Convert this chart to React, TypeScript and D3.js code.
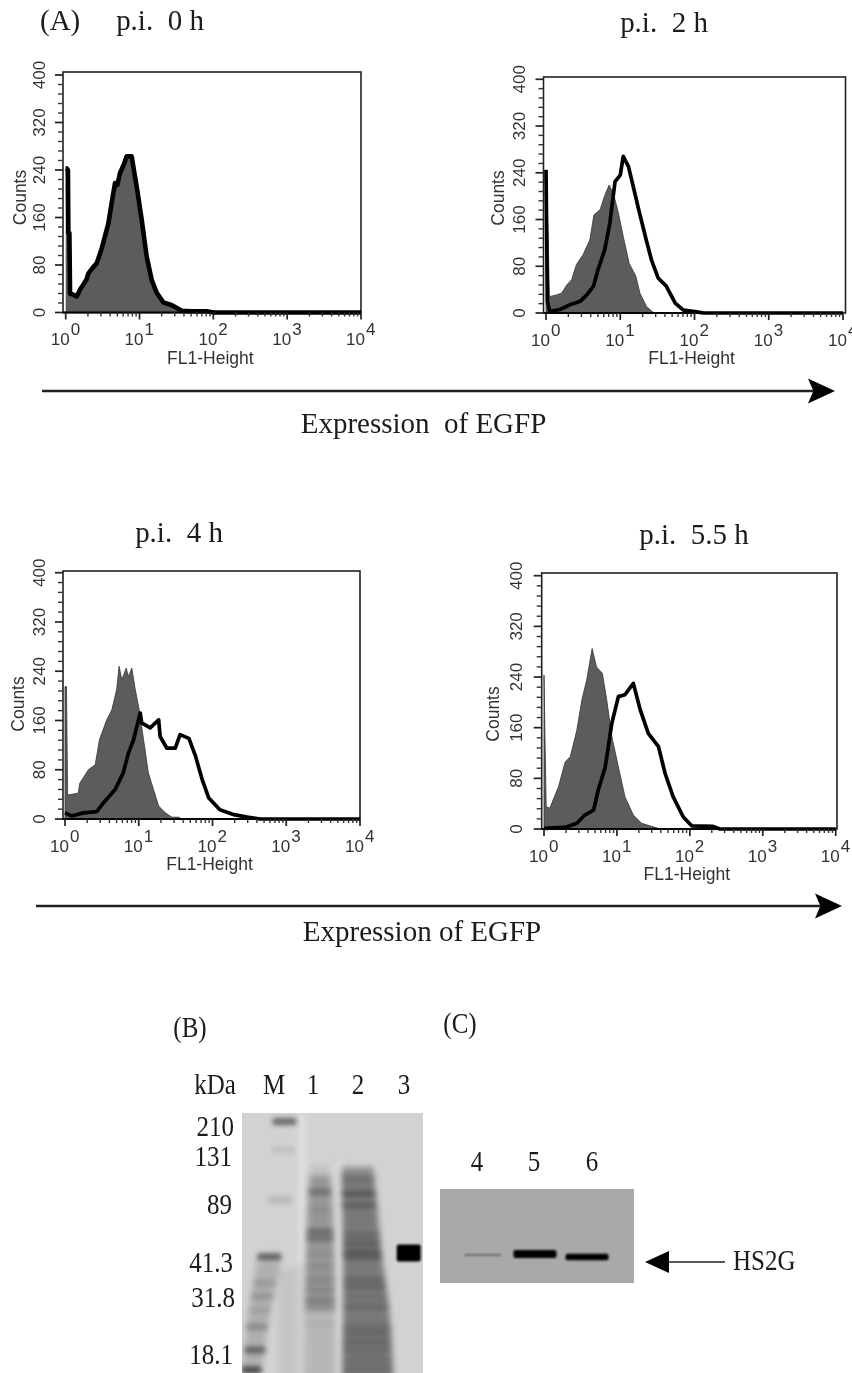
import React from "react";
import * as d3 from "d3";

// ---------- Flow cytometry data: FL1 position in decades (log10) and counts ----------
const h0Pos = [0,0.01,0.03,0.036,0.05,0.059,0.1,0.149,0.2,0.239,0.28,0.307,0.37,0.42,0.488,0.578,0.63,0.668,0.7,0.736,0.79,0.826,0.894,0.93,0.962,1.03,1.097,1.165,1.233,1.323,1.4,1.458,1.571,1.7,1.82,1.91,2,4];
const h0Cnt = [243,243,240,134,134,32,30,27,40,47,55,66,76,83,108,150,190,218,215,235,250,263,263,235,212,156,94,55,33,17,14,11,3,2,2,2,0,0];

const h2FillPos = [0,0.03,0.045,0.14,0.21,0.28,0.345,0.41,0.5,0.59,0.646,0.73,0.785,0.85,0.906,0.97,1.04,1.12,1.21,1.265,1.354,1.444,1.53,4];
const h2FillCnt = [245,125,28,31,34,48,57,83,100,125,168,177,199,219,205,174,131,85,63,34,11,1,0,0];
const h2LinePos = [0,0.01,0.02,0.05,0.19,0.32,0.46,0.55,0.64,0.7,0.79,0.86,0.93,1.0,1.04,1.11,1.17,1.26,1.35,1.42,1.51,1.62,1.74,1.85,2.03,2.12,4];
const h2LineCnt = [245,125,20,3,6,14,20,31,46,74,108,154,225,236,268,251,219,171,125,91,60,46,17,5,2,0,0];

const h4FillPos = [0,0.02,0.036,0.18,0.2,0.317,0.41,0.467,0.566,0.634,0.7,0.734,0.77,0.83,0.86,0.906,0.95,1.006,1.065,1.13,1.2,1.27,1.36,1.45,1.54,1.585,4];
const h4FillCnt = [215,215,39,42,58,80,88,129,161,177,210,248,226,245,231,245,212,177,129,75,48,21,10,3,3,0,0];
const h4LinePos = [0,0.09,0.25,0.43,0.52,0.68,0.79,0.86,0.93,1.02,1.04,1.155,1.27,1.29,1.38,1.495,1.56,1.68,1.77,1.86,1.95,2.1,2.29,2.47,2.65,4];
const h4LineCnt = [10,5,10,12,26,48,75,107,129,172,156,148,161,134,115,115,137,131,102,64,34,15,7,3,0,0];

const h55FillPos = [0,0.014,0.03,0.08,0.2,0.29,0.36,0.45,0.52,0.585,0.66,0.72,0.8,0.86,0.93,1.02,1.11,1.225,1.34,1.45,1.57,1.68,4];
const h55FillCnt = [243,140,35,33,67,106,114,156,204,235,285,256,246,204,146,98,51,22,9,5,1,0,0];
const h55LinePos = [0,0.014,0.31,0.45,0.56,0.68,0.745,0.84,0.93,1.02,1.11,1.225,1.32,1.43,1.57,1.66,1.77,1.91,2.025,2.32,2.41,4];
const h55LineCnt = [1,1,3,9,22,30,62,98,167,209,212,230,188,151,130,88,51,19,5,4,0,0];

const yTicksMajor = [0, 80, 160, 240, 320, 400];
const xDecades = [0, 1, 2, 3, 4];
const panelTitles = ["p.i.  0 h", "p.i.  2 h", "p.i.  4 h", "p.i.  5.5 h"];

// ---------- Gel data: relative migration (0-100) and band density (0-1) ----------
const laneMMig = [3.3,14.2,33.5,55.3,65.5,70.6,75.8,82.2,91.2,98.8];
const laneMDen = [0.5,0.08,0.12,0.55,0.12,0.14,0.08,0.2,0.42,0.6];
const lane1Mig = [21.3,24.5,30.3,37.3,45.6,48.2,54,59.1,64.2,68,72,80.9];
const lane1Den = [0.08,0.06,0.26,0.06,0.28,0.28,0.05,0.06,0.1,0.1,0.14,0.04];
const lane2Mig = [21.3,25.8,31,35.4,47,50.1,53.4,55.3,64.2,66.8,70.6,74.5,82.2,84.7,88,91.2,95,98.2];
const lane2Den = [0.16,0.06,0.3,0.24,0.15,0.24,0.28,0.24,0.16,0.16,0.08,0.14,0.12,0.16,0.18,0.14,0.12,0.14];
const lane3Mig = [53.8];
const lane3Den = [1];
const blotMig = [50, 50, 50];
const blotDen = [0.35, 1, 1];
const kdaLabels = ["210", "131", "89", "41.3", "31.8", "18.1"];
const gelBLanes = ["M", "1", "2", "3"];
const blotLanes = ["4", "5", "6"];

// ---------- Layout ----------
const serif = "'Liberation Serif','Times New Roman',serif";
const sans = "'Liberation Sans',Arial,sans-serif";
const frames = [
  { left: 63, right: 361, top: 72, x0: 65.7, x4: 361, y0: 312.5, y400: 75, titleX: 160, titleY: 30, lw: 4.6, fillStroke: 0,
    fillPos: h0Pos, fillCnt: h0Cnt, linePos: h0Pos, lineCnt: h0Cnt, countsX: 20, labelX: 39 },
  { left: 543.5, right: 845.5, top: 77, x0: 546, x4: 843, y0: 313, y400: 79.3, titleX: 664, titleY: 32, lw: 3.7, fillStroke: 0.8,
    fillPos: h2FillPos, fillCnt: h2FillCnt, linePos: h2LinePos, lineCnt: h2LineCnt, countsX: 498, labelX: 519 },
  { left: 63, right: 360, top: 571, x0: 65, x4: 360, y0: 819, y400: 572.7, titleX: 179, titleY: 542, lw: 3.7, fillStroke: 0.8,
    fillPos: h4FillPos, fillCnt: h4FillCnt, linePos: h4LinePos, lineCnt: h4LineCnt, countsX: 18, labelX: 39 },
  { left: 541.7, right: 837, top: 573, x0: 544, x4: 835.7, y0: 829, y400: 575.7, titleX: 694, titleY: 544, lw: 3.7, fillStroke: 0.8,
    fillPos: h55FillPos, fillCnt: h55FillCnt, linePos: h55LinePos, lineCnt: h55LineCnt, countsX: 493, labelX: 516 },
];

function SerifText({ x, y, children, size = 25, sy = 1.22, anchor = "middle", ...rest }: any) {
  return (
    <text transform={`translate(${x},${y}) scale(1,${sy})`} textAnchor={anchor} fontFamily={serif} fontSize={size}
      fill="#1a1a1a" style={{ whiteSpace: "pre" }} {...rest}>
      {children}
    </text>
  );
}

function Histogram({ f, title }: any) {
  const x = d3.scaleLinear().domain([0, 4]).range([f.x0, f.x4]);
  const y = d3.scaleLinear().domain([0, 400]).range([f.y0, f.y400]);
  const fillPts = f.fillPos.map((p: number, i: number) => [p, f.fillCnt[i]]);
  const linePts = f.linePos.map((p: number, i: number) => [p, f.lineCnt[i]]);
  const area = d3.area<number[]>().x(d => x(d[0])).y0(y(0)).y1(d => y(d[1]));
  const line = d3.line<number[]>().x(d => x(d[0])).y(d => y(d[1]));
  const yMinor = d3.range(0, 401, 16).filter(v => v % 80 !== 0);
  const xMinor = xDecades.slice(0, 4).flatMap(d => d3.range(2, 10).map(m => d + Math.log10(m)));
  return (
    <g>
      <SerifText x={f.titleX} y={f.titleY} size={29} sy={1.05}>{title}</SerifText>
      <rect x={f.left} y={f.top} width={f.right - f.left} height={f.y0 - f.top} fill="#fff" stroke="#222" strokeWidth={1.6} />
      <path d={area(fillPts) || ""} fill="#5c5c5c" stroke={f.fillStroke ? "#333" : "none"} strokeWidth={f.fillStroke} />
      <path d={line(linePts) || ""} fill="none" stroke="#000" strokeWidth={f.lw} strokeLinejoin="round" />
      <line x1={f.left} x2={f.x4} y1={y(0)} y2={y(0)} stroke="#000" strokeWidth={2.2} />
      {yTicksMajor.map(v => (
        <g key={v}>
          <line x1={f.left - 8} x2={f.left} y1={y(v)} y2={y(v)} stroke="#222" strokeWidth={1.7} />
          <text transform={`translate(${f.labelX + 5.5},${y(v)}) rotate(-90)`} textAnchor="middle" fontFamily={sans} fontSize={17} fill="#333">{v}</text>
        </g>
      ))}
      {yMinor.map(v => <line key={v} x1={f.left - 5} x2={f.left} y1={y(v)} y2={y(v)} stroke="#333" strokeWidth={1.4} />)}
      {xMinor.map(v => <line key={v} x1={x(v)} x2={x(v)} y1={f.y0} y2={f.y0 + 4} stroke="#333" strokeWidth={1.4} />)}
      {xDecades.map(d => (
        <g key={d}>
          <line x1={x(d)} x2={x(d)} y1={f.y0} y2={f.y0 + 7} stroke="#222" strokeWidth={1.7} />
          <text x={x(d) + 4} y={f.y0 + 32.5} textAnchor="end" fontFamily={sans} fontSize={17} fill="#333">10</text>
          <text x={x(d) + 5} y={f.y0 + 22.5} textAnchor="start" fontFamily={sans} fontSize={17} fill="#333">{d}</text>
        </g>
      ))}
      <text x={x(2) - 3} y={f.y0 + 51} textAnchor="middle" fontFamily={sans} fontSize={17.5} fill="#333">FL1-Height</text>
      <text transform={`translate(${f.countsX + 5.5},${y(0) - 115}) rotate(-90)`} textAnchor="middle" fontFamily={sans} fontSize={17.5} fill="#333">Counts</text>
    </g>
  );
}

function GelB() {
  const gel = { left: 242, right: 423, top: 1113, bottom: 1373 };
  const my = d3.scaleLinear().domain([0, 100]).range([gel.top, gel.bottom]);
  const lanes = [
    { mig: laneMMig, den: laneMDen, cx: d3.scaleLinear().domain([0, 33, 55, 82, 91, 100]).range([285, 280, 269.5, 257, 255, 251]), hw: d3.scaleLinear().domain([0, 55, 100]).range([12, 12, 10]), h: 3.5, blur: "url(#blurSmall)",
      smear: [[57, 100, 0.16]] },
    { mig: [], den: [], cx: d3.scaleLinear().domain([0, 100]).range([288, 288]), hw: d3.scaleLinear().domain([0, 100]).range([9, 10]), h: 3, blur: "url(#blurSmall)",
      smear: [[60, 104, 0.06]] },
    { mig: lane1Mig, den: lane1Den, cx: d3.scaleLinear().domain([0, 100]).range([320, 320]), hw: d3.scaleLinear().domain([20, 30, 46, 70, 100]).range([9, 11.5, 13.5, 15, 16.5]), h: 3, blur: "url(#blurSmall)",
      smear: [[24, 76, 0.28], [74, 104, 0.12]] },
    { mig: lane2Mig, den: lane2Den, cx: d3.scaleLinear().domain([20, 56, 77, 100]).range([357, 362.5, 366.5, 367.5]), hw: d3.scaleLinear().domain([20, 56, 77, 100]).range([16, 19.5, 23.5, 25.5]), h: 2.6, blur: "url(#blurSmall)",
      smear: [[22, 104, 0.42]] },
    { mig: lane3Mig, den: lane3Den, cx: d3.scaleLinear().domain([0, 100]).range([408.7, 408.7]), hw: d3.scaleLinear().domain([0, 100]).range([12, 12]), h: 8.5, blur: "url(#blurTiny)", smear: [] },
  ];
  return (
    <g>
      <clipPath id="gelClip"><rect x={gel.left} y={gel.top} width={gel.right - gel.left} height={gel.bottom - gel.top} /></clipPath>
      <g clipPath="url(#gelClip)">
        <rect x={gel.left} y={gel.top} width={gel.right - gel.left} height={gel.bottom - gel.top} fill="#d2d2d2" />
        <rect x={298} y={gel.top} width={8} height={150} fill="#dedede" filter="url(#blurWide)" />
        <rect x={337} y={gel.top + 50} width={6} height={220} fill="#dedede" filter="url(#blurWide)" />
        {lanes.flatMap((l, i) => l.smear.map(([a, b, o], k) => {
          const ms = d3.range(a, b + 0.1, (b - a) / 8);
          const poly = d3.area<number>().x0(m => l.cx(m) - l.hw(m)).x1(m => l.cx(m) + l.hw(m)).y0(m => my(m)).y1(m => my(m));
          return <path key={`${i}s${k}`} d={poly(ms) || ""} fill="#000" opacity={o} filter="url(#blurMid)" />;
        }))}
        {lanes.flatMap((l, i) => l.mig.map((m, j) => (
          <rect key={`${i}-${j}`} x={l.cx(m) - l.hw(m)} y={my(m) - l.h} width={2 * l.hw(m)} height={2 * l.h} rx={2}
            fill="#000" opacity={l.den[j]} filter={l.blur} />
        )))}
      </g>
    </g>
  );
}

function Blot() {
  const gel = { left: 440, right: 634, top: 1189, bottom: 1283 };
  const my = d3.scaleLinear().domain([0, 100]).range([gel.top, gel.top + 132]);
  const laneX = [483, 535, 587];
  const laneW = [38, 43, 43];
  const off = [0, -1, 2];
  const thick = [2, 8, 6.5];
  return (
    <g>
      <rect x={gel.left} y={gel.top} width={gel.right - gel.left} height={gel.bottom - gel.top} fill="#a9a9a9" />
      {blotMig.map((m, i) => (
        <rect key={i} x={laneX[i] - laneW[i] / 2} y={my(m) + off[i] - thick[i] / 2} width={laneW[i]} height={thick[i]} rx={2}
          fill="#000" opacity={blotDen[i]} filter="url(#blurTiny)" />
      ))}
    </g>
  );
}

function Arrow({ x1, x2, y, head, half, notch = 0.8, lw = 2.4 }: any) {
  const dir = x2 > x1 ? 1 : -1;
  const tri = d3.line()([[x2, y], [x2 - dir * head, y - half], [x2 - dir * head * notch, y], [x2 - dir * head, y + half]]);
  return (
    <g>
      <line x1={x1} x2={x2 - dir * head * notch} y1={y} y2={y} stroke="#222" strokeWidth={lw} />
      <path d={(tri || "") + "Z"} fill="#000" />
    </g>
  );
}

export default function App() {
  const kdaY = [1127, 1157, 1205, 1263, 1298, 1355];
  const kdaRight = [234, 232, 232, 233, 235, 233];
  const laneLabelX = [274, 313, 358, 404];
  const blotLabelX = [477, 534, 592];
  return (
    <svg width={852} height={1373} viewBox="0 0 852 1373" style={{ position: "absolute", left: 0, top: 0, background: "#fff" }}>
      <defs>
        <filter id="soft"><feGaussianBlur stdDeviation="0.45" /></filter>
        <filter id="blurTiny" x="-30%" y="-300%" width="160%" height="700%"><feGaussianBlur stdDeviation="1.2" /></filter>
        <filter id="blurSmall" x="-30%" y="-500%" width="160%" height="1100%"><feGaussianBlur stdDeviation="2.8" /></filter>
        <filter id="blurMid" x="-30%" y="-20%" width="160%" height="140%"><feGaussianBlur stdDeviation="3" /></filter>
        <filter id="blurWide" x="-200%" y="-10%" width="500%" height="120%"><feGaussianBlur stdDeviation="2.5" /></filter>
      </defs>
      <g filter="url(#soft)">
        <SerifText x={40} y={30} anchor="start" size={29} sy={1.05}>(A)</SerifText>
        {frames.map((f, i) => <Histogram key={i} f={f} title={panelTitles[i]} />)}
        <Arrow x1={42} x2={835} y={391} head={27} half={12.5} />
        <SerifText x={423.5} y={433} size={29} sy={1.05}>Expression  of EGFP</SerifText>
        <Arrow x1={36} x2={842} y={906} head={27} half={12.5} />
        <SerifText x={422} y={941} size={29} sy={1.05}>Expression of EGFP</SerifText>

        <SerifText x={190} y={1037}>(B)</SerifText>
        <SerifText x={460} y={1033}>(C)</SerifText>
        <SerifText x={215} y={1094}>kDa</SerifText>
        {gelBLanes.map((t, i) => <SerifText key={t} x={laneLabelX[i]} y={1094}>{t}</SerifText>)}
        {kdaLabels.map((t, i) => <SerifText key={t} x={kdaRight[i]} y={kdaY[i] + 9} anchor="end">{t}</SerifText>)}
        {blotLanes.map((t, i) => <SerifText key={t} x={blotLabelX[i]} y={1171}>{t}</SerifText>)}
        <GelB />
        <Blot />
        <Arrow x1={725} x2={645} y={1262} head={24} half={11} notch={1} lw={1.6} />
        <SerifText x={733} y={1270} anchor="start">HS2G</SerifText>
      </g>
    </svg>
  );
}
